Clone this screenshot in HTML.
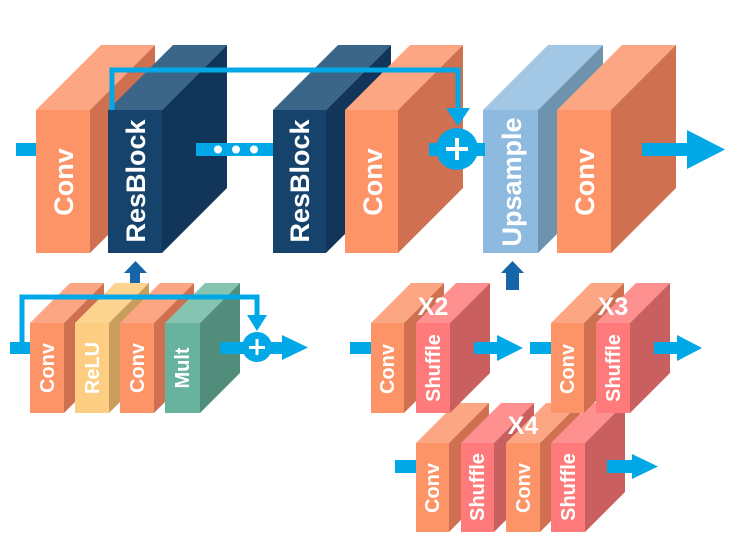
<!DOCTYPE html>
<html><head><meta charset="utf-8"><style>
html,body{margin:0;padding:0;background:#fff;}
svg{display:block;}
text{font-family:"Liberation Sans",sans-serif;font-weight:bold;fill:#fff;}
</style></head><body>
<svg width="738" height="545" viewBox="0 0 738 545" xmlns="http://www.w3.org/2000/svg">
<polygon points="36,110 101,45 155,45 90,110" fill="#fca684"/>
<polygon points="90,110 155,45 155,188 90,253" fill="#cf7150"/>
<rect x="36" y="110" width="54" height="143" fill="#fd9468"/>
<polygon points="108,110 173,45 227,45 162,110" fill="#3c6687"/>
<polygon points="162,110 227,45 227,188 162,253" fill="#12365a"/>
<rect x="108" y="110" width="54" height="143" fill="#15436b"/>
<polygon points="273,110 338,45 391,45 326,110" fill="#3c6687"/>
<polygon points="326,110 391,45 391,188 326,253" fill="#12365a"/>
<rect x="273" y="110" width="53" height="143" fill="#15436b"/>
<polygon points="345,110 410,45 463,45 398,110" fill="#fca684"/>
<polygon points="398,110 463,45 463,188 398,253" fill="#cf7150"/>
<rect x="345" y="110" width="53" height="143" fill="#fd9468"/>
<polygon points="483,110 548,45 603,45 538,110" fill="#a3c8e5"/>
<polygon points="538,110 603,45 603,188 538,253" fill="#6e93ae"/>
<rect x="483" y="110" width="55" height="143" fill="#8fbadf"/>
<polygon points="557,110 622,45 676,45 611,110" fill="#fca684"/>
<polygon points="611,110 676,45 676,188 611,253" fill="#cf7150"/>
<rect x="557" y="110" width="54" height="143" fill="#fd9468"/>

<g font-size="27">
<text transform="translate(73,182) rotate(-90)" text-anchor="middle">Conv</text>
<text transform="translate(145,181) rotate(-90)" text-anchor="middle">ResBlock</text>
<text transform="translate(309,181) rotate(-90)" text-anchor="middle">ResBlock</text>
<text transform="translate(382,182) rotate(-90)" text-anchor="middle">Conv</text>
<text transform="translate(521,182) rotate(-90)" text-anchor="middle">Upsample</text>
<text transform="translate(594,182) rotate(-90)" text-anchor="middle">Conv</text>
</g>

<rect x="16" y="143" width="20" height="13" fill="#00a8e8"/>
<rect x="196" y="143" width="77" height="13" fill="#00a8e8"/>
<circle cx="218" cy="149.5" r="4" fill="#fff"/>
<circle cx="236" cy="149.5" r="4" fill="#fff"/>
<circle cx="254" cy="149.5" r="4" fill="#fff"/>
<polyline points="112,110 112,70 458,70 458,110" fill="none" stroke="#00a8e8" stroke-width="5"/>
<polygon points="446,108 470,108 458,126" fill="#00a8e8"/>
<rect x="429" y="143" width="56" height="13" fill="#00a8e8"/>
<circle cx="457" cy="149" r="21" fill="#00a8e8"/>
<rect x="446" y="147" width="22" height="4" fill="#fff"/>
<rect x="455" y="138" width="4" height="22" fill="#fff"/>
<rect x="642" y="143" width="47" height="13" fill="#00a8e8"/>
<polygon points="687,130 725,149.5 687,169" fill="#00a8e8"/>

<polygon points="124,273 135.5,261 147,273 140,273 140,290 130,290 130,273" fill="#1565a8"/>
<polygon points="501,273 512.5,261 524,273 519,273 519,290 506,290 506,273" fill="#1565a8"/>

<polygon points="30,323 70,283 104,283 64,323" fill="#fca684"/>
<polygon points="64,323 104,283 104,373 64,413" fill="#cf7150"/>
<rect x="30" y="323" width="34" height="90" fill="#fd9468"/>
<polygon points="75,323 115,283 149,283 109,323" fill="#fdd590"/>
<polygon points="109,323 149,283 149,373 109,413" fill="#c99e5c"/>
<rect x="75" y="323" width="34" height="90" fill="#fdce82"/>
<polygon points="120,323 160,283 194,283 154,323" fill="#fca684"/>
<polygon points="154,323 194,283 194,373 154,413" fill="#cf7150"/>
<rect x="120" y="323" width="34" height="90" fill="#fd9468"/>
<polygon points="165,323 205,283 240,283 200,323" fill="#85c4b1"/>
<polygon points="200,323 240,283 240,373 200,413" fill="#528c7b"/>
<rect x="165" y="323" width="35" height="90" fill="#67b39d"/>
<g font-size="20">
<text transform="translate(54,368) rotate(-90)" text-anchor="middle">Conv</text>
<text transform="translate(99,368) rotate(-90)" text-anchor="middle">ReLU</text>
<text transform="translate(144,368) rotate(-90)" text-anchor="middle">Conv</text>
<text transform="translate(189,368) rotate(-90)" text-anchor="middle">Mult</text>
</g>
<rect x="10" y="342" width="20" height="12" fill="#00a8e8"/>
<polyline points="22,342 22,297 257,297 257,318" fill="none" stroke="#00a8e8" stroke-width="5"/>
<polygon points="247,315 267,315 257,331" fill="#00a8e8"/>
<rect x="220" y="342" width="64" height="12" fill="#00a8e8"/>
<circle cx="257" cy="347" r="15" fill="#00a8e8"/>
<rect x="249" y="346" width="16" height="3" fill="#fff"/>
<rect x="255.5" y="339" width="3" height="16" fill="#fff"/>
<polygon points="282,335 308,347.5 282,360" fill="#00a8e8"/>

<polygon points="416,443 456,403 489,403 449,443" fill="#fca684"/>
<polygon points="449,443 489,403 489,492 449,532" fill="#cf7150"/>
<rect x="416" y="443" width="33" height="89" fill="#fd9468"/>
<polygon points="461,443 501,403 534,403 494,443" fill="#ff9090"/>
<polygon points="494,443 534,403 534,492 494,532" fill="#c95f5f"/>
<rect x="461" y="443" width="33" height="89" fill="#ff7b7b"/>
<polygon points="506,443 546,403 580,403 540,443" fill="#fca684"/>
<polygon points="540,443 580,403 580,492 540,532" fill="#cf7150"/>
<rect x="506" y="443" width="34" height="89" fill="#fd9468"/>
<polygon points="551,443 591,403 625,403 585,443" fill="#ff9090"/>
<polygon points="585,443 625,403 625,492 585,532" fill="#c95f5f"/>
<rect x="551" y="443" width="34" height="89" fill="#ff7b7b"/>

<polygon points="371,323 411,283 444,283 404,323" fill="#fca684"/>
<polygon points="404,323 444,283 444,373 404,413" fill="#cf7150"/>
<rect x="371" y="323" width="33" height="90" fill="#fd9468"/>
<polygon points="416,323 456,283 490,283 450,323" fill="#ff9090"/>
<polygon points="450,323 490,283 490,373 450,413" fill="#c95f5f"/>
<rect x="416" y="323" width="34" height="90" fill="#ff7b7b"/>
<polygon points="551,323 591,283 624,283 584,323" fill="#fca684"/>
<polygon points="584,323 624,283 624,373 584,413" fill="#cf7150"/>
<rect x="551" y="323" width="33" height="90" fill="#fd9468"/>
<polygon points="596,323 636,283 670,283 630,323" fill="#ff9090"/>
<polygon points="630,323 670,283 670,373 630,413" fill="#c95f5f"/>
<rect x="596" y="323" width="34" height="90" fill="#ff7b7b"/>

<g font-size="20">
<text transform="translate(394,369) rotate(-90)" text-anchor="middle">Conv</text>
<text transform="translate(440,368) rotate(-90)" text-anchor="middle">Shuffle</text>
<text transform="translate(574,369) rotate(-90)" text-anchor="middle">Conv</text>
<text transform="translate(620,368) rotate(-90)" text-anchor="middle">Shuffle</text>
<text transform="translate(439,488) rotate(-90)" text-anchor="middle">Conv</text>
<text transform="translate(484,487) rotate(-90)" text-anchor="middle">Shuffle</text>
<text transform="translate(530,488) rotate(-90)" text-anchor="middle">Conv</text>
<text transform="translate(575,487) rotate(-90)" text-anchor="middle">Shuffle</text>
</g>
<g font-size="25">
<text x="433" y="315" text-anchor="middle">X2</text>
<text x="613" y="315" text-anchor="middle">X3</text>
<text x="523" y="434" text-anchor="middle">X4</text>
</g>

<rect x="350" y="342" width="21" height="12" fill="#00a8e8"/>
<rect x="474" y="342" width="25" height="12" fill="#00a8e8"/>
<polygon points="497,335 523,348 497,361" fill="#00a8e8"/>
<rect x="530" y="342" width="21" height="12" fill="#00a8e8"/>
<rect x="654" y="342" width="25" height="12" fill="#00a8e8"/>
<polygon points="677,335 702,348 677,361" fill="#00a8e8"/>
<rect x="395" y="460" width="21" height="13" fill="#00a8e8"/>
<rect x="607" y="460" width="27" height="13" fill="#00a8e8"/>
<polygon points="632,454 658,466.5 632,479" fill="#00a8e8"/>
</svg>
</body></html>
